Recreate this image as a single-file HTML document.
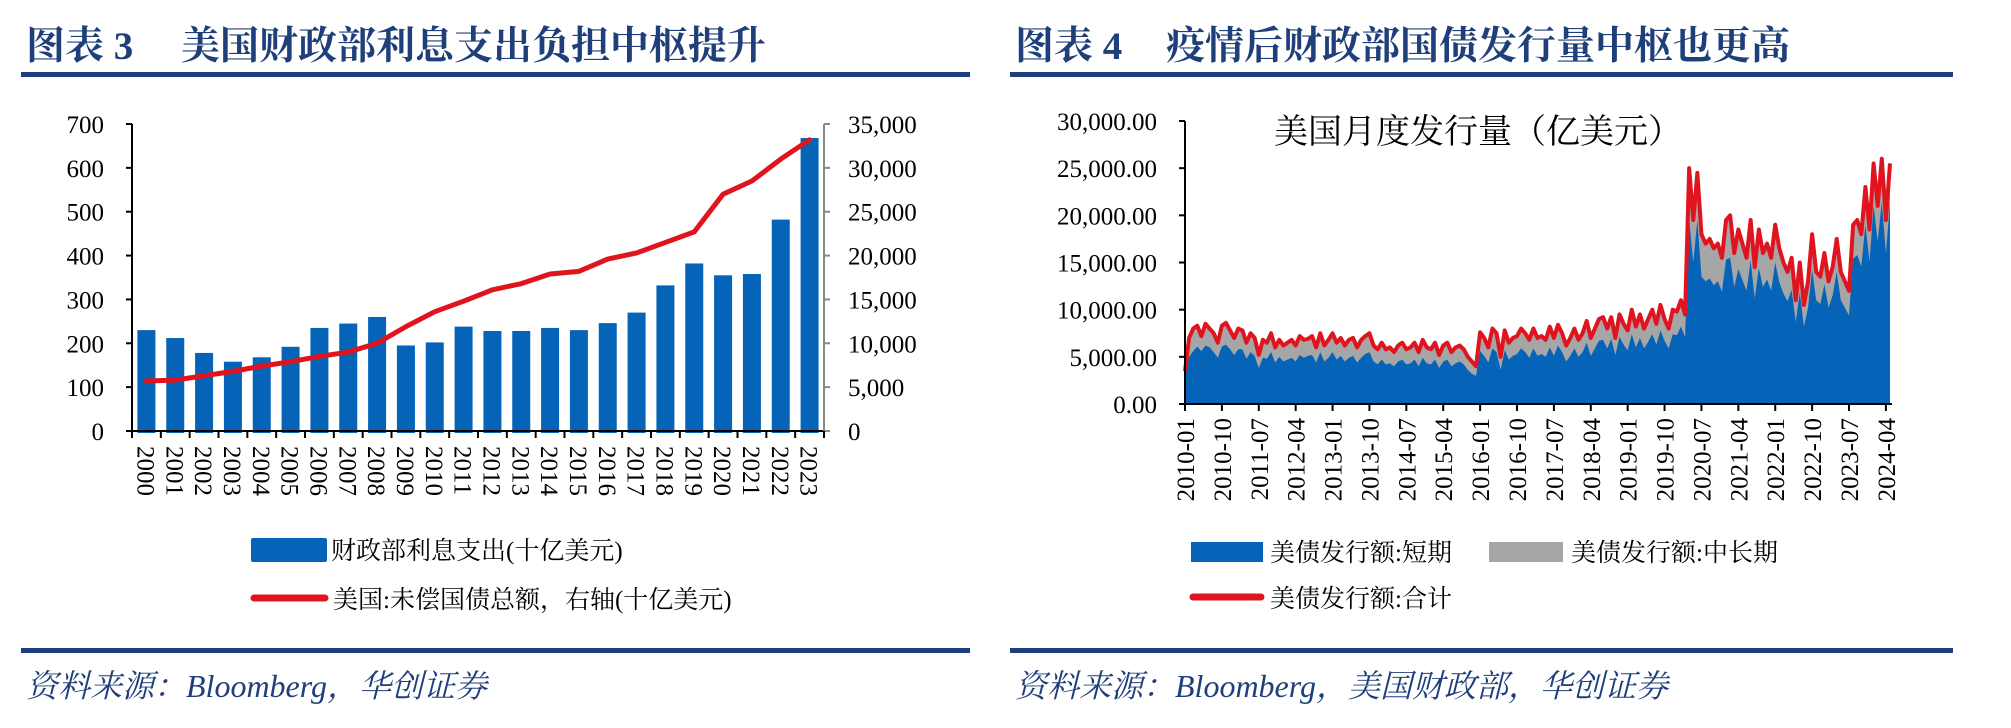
<!DOCTYPE html>
<html><head><meta charset="utf-8"><style>
html,body{margin:0;padding:0;background:#fff;width:2011px;height:728px;overflow:hidden}
svg{display:block}
.ttl{font-family:"Liberation Serif","Noto Serif CJK SC",serif;font-weight:bold;font-size:39px;fill:#1f3f7a}
.tk{font-family:"Liberation Serif","Noto Serif CJK SC",serif;font-size:25px;fill:#000}
.lg{font-family:"Liberation Serif","Noto Serif CJK SC",serif;font-size:25px;fill:#000}
.src{font-family:"Liberation Serif","Noto Serif CJK SC",serif;font-style:italic;font-size:32px;fill:#1f3f7a}
</style></head><body>
<svg id="svg" width="2011" height="728" xmlns="http://www.w3.org/2000/svg">
<text class="ttl" x="26" y="59">图表 3<tspan x="181">美国财政部利息支出负担中枢提升</tspan></text>
<rect x="21" y="72" width="949" height="5" fill="#1f3f7a"/>
<text class="ttl" x="1015" y="59">图表 4<tspan x="1166">疫情后财政部国债发行量中枢也更高</tspan></text>
<rect x="1010" y="72" width="943" height="5" fill="#1f3f7a"/>
<rect x="21" y="648" width="949" height="5" fill="#1f3f7a"/>
<rect x="1010" y="648" width="943" height="5" fill="#1f3f7a"/>
<text class="src" x="26" y="697">资料来源：Bloomberg，华创证券</text>
<text class="src" x="1015" y="697">资料来源：Bloomberg，美国财政部，华创证券</text>
<g id="c3"></g><g id="c4"></g>
</svg>
<script>
const years=['2000','2001','2002','2003','2004','2005','2006','2007','2008','2009','2010','2011','2012','2013','2014','2015','2016','2017','2018','2019','2020','2021','2022','2023'];
const interest=[230,212,178,158,168,192,235,245,260,195,202,238,228,228,235,230,246,270,332,382,355,358,482,668];
const debt=[5700,5800,6300,6800,7400,7900,8500,9000,10000,11900,13600,14800,16100,16800,17900,18200,19600,20300,21500,22700,27000,28500,31000,33200];
const leftTicks=[0,100,200,300,400,500,600,700];
const rightTicks=['0','5,000','10,000','15,000','20,000','25,000','30,000','35,000'];
const rightTickVals=[0,5000,10000,15000,20000,25000,30000,35000];

const monthLabels=['2010-01','2010-10','2011-07','2012-04','2013-01','2013-10','2014-07','2015-04','2016-01','2016-10','2017-07','2018-04','2019-01','2019-10','2020-07','2021-04','2022-01','2022-10','2023-07','2024-04'];
const issueTicks=['0.00','5,000.00','10,000.00','15,000.00','20,000.00','25,000.00','30,000.00'];
const issueTickVals=[0,5000,10000,15000,20000,25000,30000];
const totalK=[
3.5,7.0,8.0,8.3,7.2,8.5,8.0,7.5,6.5,8.3,8.6,7.8,
7.0,8.0,7.8,6.5,7.5,7.0,5.2,6.8,6.5,7.5,6.0,6.8,
6.2,6.5,6.8,6.2,7.2,6.8,6.9,7.2,6.0,7.5,6.2,6.8,
7.5,6.5,7.0,6.2,6.8,7.0,6.0,6.8,7.2,7.5,6.2,5.8,
6.5,5.8,6.0,5.5,6.2,6.5,5.8,6.0,6.5,5.5,6.8,6.0,
5.8,6.5,5.2,6.2,6.5,5.5,6.0,6.2,5.8,5.0,4.5,4.0,
7.6,7.0,6.0,8.0,7.5,5.0,7.8,6.5,7.0,7.2,8.0,7.5,
6.8,8.0,7.0,7.2,6.8,8.2,7.0,8.4,7.5,6.2,7.0,8.0,
6.8,7.5,8.8,7.0,8.0,9.0,9.2,8.0,9.2,7.0,9.5,8.5,
7.8,10.0,8.2,9.5,8.0,9.0,10.0,8.5,10.5,9.0,8.0,10.0,
9.8,11.0,9.5,25.0,19.5,24.5,18.0,17.0,17.5,16.5,17.0,15.5,
19.5,20.0,16.0,18.5,17.0,15.5,19.5,14.5,18.5,16.0,17.0,15.5,
19.0,16.5,15.0,14.0,15.5,11.0,15.0,10.5,13.0,18.0,14.0,13.5,
16.0,13.0,14.5,17.5,14.0,13.0,12.0,19.0,19.5,18.0,23.0,18.5,
25.5,21.0,26.0,19.5,25.5];
const midLongK=[
0.4,2.0,2.4,2.2,1.6,2.3,2.0,2.0,1.6,2.2,2.3,2.0,
1.8,2.2,2.0,1.7,2.0,1.9,1.4,1.9,1.7,2.0,1.6,1.8,
1.7,1.8,1.9,1.7,2.0,1.9,1.8,2.0,1.6,2.0,1.7,1.9,
2.0,1.8,1.9,1.7,1.9,1.9,1.6,1.9,1.9,2.0,1.7,1.6,
1.8,1.6,1.7,1.5,1.7,1.8,1.6,1.7,1.8,1.5,1.9,1.7,
1.6,1.8,1.4,1.7,1.8,1.5,1.7,1.7,1.6,1.4,1.3,1.0,
2.0,1.9,1.6,2.1,2.0,1.4,2.1,1.8,1.9,1.9,2.1,2.0,
1.9,2.1,1.9,1.9,1.8,2.2,1.9,2.2,2.0,1.7,1.9,2.1,
1.8,2.0,2.3,1.9,2.1,2.3,2.4,2.1,2.3,1.8,2.4,2.2,
2.1,2.6,2.2,2.5,2.1,2.4,2.6,2.2,2.7,2.3,2.1,2.6,
2.5,2.8,2.4,5.5,4.5,5.0,4.5,4.0,4.2,3.9,4.0,3.6,
4.2,4.5,3.6,4.2,3.9,3.5,4.3,3.3,4.1,3.6,3.8,3.5,
4.0,3.6,3.3,3.1,3.4,2.3,3.2,2.3,2.8,3.8,3.0,2.9,
3.3,2.8,3.0,3.5,3.0,2.8,2.6,3.6,3.7,3.4,4.0,3.4,
4.5,3.8,4.6,3.5,4.2];

const NS='http://www.w3.org/2000/svg';
function mk(tag,attrs,parent,txt){const e=document.createElementNS(NS,tag);for(const k in attrs)e.setAttribute(k,attrs[k]);if(txt!==undefined)e.textContent=txt;parent.appendChild(e);return e;}

// ---------- Chart 3 ----------
const g3=document.getElementById('c3');
const L0=132,L1=824,T3=124,B3=431;
const band=(L1-L0)/years.length;
const yL=v=>B3-v/700*(B3-T3);
const yR=v=>B3-v/35000*(B3-T3);
const xc=i=>L0+(i+0.5)*band;
interest.forEach((v,i)=>{
  const r=mk('rect',{x:xc(i)-9,y:yL(v),width:18,height:B3+2-yL(v),fill:'#0563b8'},g3);
  
  
});
let ax=mk('line',{x1:L0,y1:T3,x2:L0,y2:B3,stroke:'#000','stroke-width':2},g3);

ax=mk('line',{x1:L0,y1:B3,x2:L1,y2:B3,stroke:'#000','stroke-width':2},g3);

ax=mk('line',{x1:L1,y1:T3,x2:L1,y2:B3,stroke:'#888','stroke-width':2},g3);

leftTicks.forEach(v=>{
  mk('line',{x1:L0-6,y1:yL(v),x2:L0,y2:yL(v),stroke:'#000','stroke-width':2},g3);
  const t=mk('text',{x:104,y:yL(v)+9,'text-anchor':'end',class:'tk'},g3,String(v));
  
});
rightTickVals.forEach((v,i)=>{
  mk('line',{x1:L1,y1:yR(v),x2:L1+6,y2:yR(v),stroke:'#888','stroke-width':2},g3);
  const t=mk('text',{x:848,y:yR(v)+9,class:'tk'},g3,rightTicks[i]);
  
});
for(let i=0;i<=years.length;i++)mk('line',{x1:L0+i*band,y1:B3,x2:L0+i*band,y2:B3+7,stroke:'#000','stroke-width':2},g3);
years.forEach((y,i)=>{
  const t=mk('text',{x:0,y:0,class:'tk',transform:`translate(${xc(i)-9},446) rotate(90)`},g3,y);
  
});
const dl=mk('polyline',{points:debt.map((v,i)=>xc(i)+','+yR(v)).join(' '),fill:'none',stroke:'#e0141e','stroke-width':5,'stroke-linejoin':'round','stroke-linecap':'round'},g3);

let lgi=mk('rect',{x:251,y:538,width:76,height:24,rx:2,fill:'#0563b8'},g3);

lgi=mk('text',{x:331,y:559,class:'lg'},g3,'财政部利息支出(十亿美元)');

lgi=mk('line',{x1:254,y1:598,x2:325,y2:598,stroke:'#e0141e','stroke-width':7,'stroke-linecap':'round'},g3);

lgi=mk('text',{x:333,y:608,class:'lg'},g3,'美国:未偿国债总额，右轴(十亿美元)');


// ---------- Chart 4 ----------
const g4=document.getElementById('c4');
const R0=1185,R1=1890,T4=121,B4=404;
const n=totalK.length;
const xm=i=>R0+i*(R1-R0)/(n-1);
const y4=v=>B4-v/30000*(B4-T4);
const shortK=totalK.map((t,i)=>t-midLongK[i]);
const areaPts=arr=>arr.map((v,i)=>xm(i)+','+y4(v*1000)).join(' ');
const gray=mk('polygon',{points:`${xm(0)},${B4} `+areaPts(totalK)+` ${xm(n-1)},${B4}`,fill:'#a6a6a6'},g4);

const blue=mk('polygon',{points:`${xm(0)},${B4} `+areaPts(shortK)+` ${xm(n-1)},${B4}`,fill:'#0563b8'},g4);

const tl=mk('polyline',{points:areaPts(totalK),fill:'none',stroke:'#e0141e','stroke-width':4,'stroke-linejoin':'round'},g4);

ax=mk('line',{x1:R0,y1:T4,x2:R0,y2:B4,stroke:'#000','stroke-width':2},g4);

ax=mk('line',{x1:R0,y1:B4,x2:R1+2,y2:B4,stroke:'#000','stroke-width':2},g4);

issueTickVals.forEach((v,i)=>{
  mk('line',{x1:R0-6,y1:y4(v),x2:R0,y2:y4(v),stroke:'#000','stroke-width':2},g4);
  const t=mk('text',{x:1157,y:y4(v)+9,'text-anchor':'end',class:'tk'},g4,issueTicks[i]);
  
});
monthLabels.forEach((m,k)=>{
  const x=xm(k*9);
  mk('line',{x1:x,y1:B4,x2:x,y2:B4+7,stroke:'#000','stroke-width':2},g4);
  const t=mk('text',{x:0,y:0,class:'tk','text-anchor':'end',transform:`translate(${x+9},418) rotate(-90)`},g4,m);
  
});
const ct=mk('text',{x:1478,y:143,'text-anchor':'middle',class:'lg',style:'font-size:34px'},g4,'美国月度发行量（亿美元）');

lgi=mk('rect',{x:1191,y:542,width:72,height:20,fill:'#0563b8'},g4);

lgi=mk('text',{x:1270,y:561,class:'lg'},g4,'美债发行额:短期');

lgi=mk('rect',{x:1489,y:542,width:74,height:20,fill:'#a6a6a6'},g4);

lgi=mk('text',{x:1571,y:561,class:'lg'},g4,'美债发行额:中长期');

lgi=mk('line',{x1:1193,y1:597,x2:1261,y2:597,stroke:'#e0141e','stroke-width':7,'stroke-linecap':'round'},g4);

lgi=mk('text',{x:1270,y:607,class:'lg'},g4,'美债发行额:合计');

</script>
</body></html>
